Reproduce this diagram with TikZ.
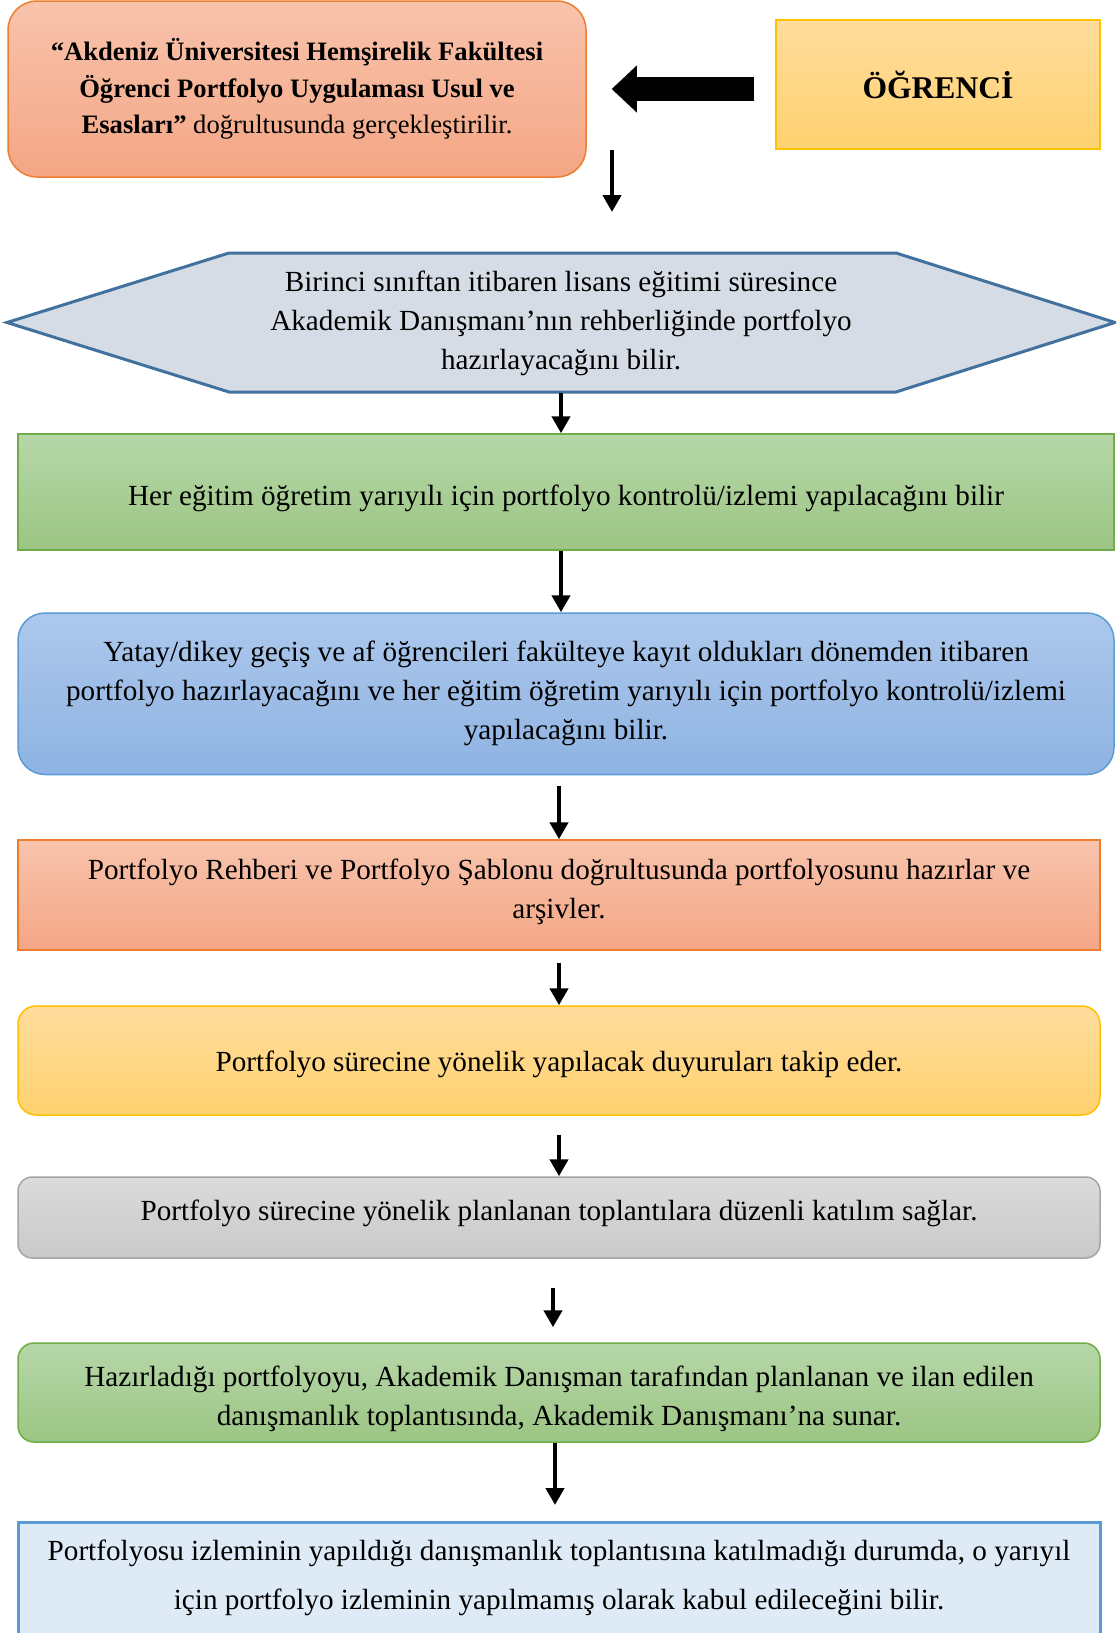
\documentclass[tikz,border=0pt]{standalone}
\usepackage{fontspec}
\setmainfont{Liberation Serif}
\usetikzlibrary{arrows.meta,positioning}

\definecolor{salmonTop}{HTML}{F8C3AC}
\definecolor{salmonBot}{HTML}{F4A685}
\definecolor{orangeLine}{HTML}{ED7D31}
\definecolor{goldTop}{HTML}{FFDC9C}
\definecolor{goldBot}{HTML}{FFD270}
\definecolor{goldLine}{HTML}{FFC000}
\definecolor{greenTop}{HTML}{B6D7A8}
\definecolor{greenBot}{HTML}{9CC584}
\definecolor{greenLine}{HTML}{70AD47}
\definecolor{blueTop}{HTML}{ADC8EC}
\definecolor{blueBot}{HTML}{8EB3E2}
\definecolor{blueLine}{HTML}{5B9BD5}
\definecolor{grayTop}{HTML}{DBDBDB}
\definecolor{grayBot}{HTML}{C9C9C9}
\definecolor{grayLine}{HTML}{A5A5A5}
\definecolor{hexFill}{HTML}{D6DCE5}
\definecolor{hexLine}{HTML}{41719C}
\definecolor{paleFill}{HTML}{DEEBF7}

\begin{document}
\begin{tikzpicture}[x=0.5pt,y=-0.5pt,
    box/.style={draw,align=center,inner sep=0pt,line width=0.75pt,
                font=\fontsize{14.6}{19.3}\selectfont},
    salmonbox/.style={box,draw=orangeLine,top color=salmonTop,bottom color=salmonBot},
    goldbox/.style={box,draw=goldLine,top color=goldTop,bottom color=goldBot},
    greenbox/.style={box,draw=greenLine,top color=greenTop,bottom color=greenBot},
    bluebox/.style={box,draw=blueLine,top color=blueTop,bottom color=blueBot},
    graybox/.style={box,draw=grayLine,top color=grayTop,bottom color=grayBot},
    flow/.style={-{Triangle[length=8.5pt,width=9pt]},line width=2.4pt},
    bigarrow/.style={-{Triangle[length=12.5pt,width=23.5pt,line width=0pt]},
                     line width=12pt}]

  \useasboundingbox (0,0) rectangle (1116,1633);
  \clip (0,0) rectangle (1116,1633);

  % top row
  \node[salmonbox,rounded corners=14.5pt,minimum width=289pt,minimum height=88pt,
        font=\fontsize{13.3}{18.25}\selectfont\bfseries] (usul) at (297,89)
       {“Akdeniz Üniversitesi Hemşirelik Fakültesi\\
        Öğrenci Portfolyo Uygulaması Usul ve\\
        Esasları” \textmd{doğrultusunda gerçekleştirilir.}};
  \node[goldbox,minimum width=162pt,minimum height=64.5pt,
        font=\fontsize{15.8}{19}\selectfont\bfseries] (ogr) at (938,84.5) {ÖĞRENCİ};

  \draw[bigarrow,shorten <=10.5pt,shorten >=12.5pt] (ogr.west |- usul.east) -- (usul.east);

  \coordinate (down1) at (612,150);
  \coordinate (down2) at (612,212);
  \draw[flow] (down1) -- (down2);

  % hexagon
  \draw[fill=hexFill,draw=hexLine,line width=1.5pt]
       (7,322.5) -- (229,253) -- (896,253) -- (1115,322.5)
       -- (896,392) -- (229,392) -- cycle;
  \node[align=center,inner sep=0pt,minimum width=554pt,minimum height=69.5pt,
        font=\fontsize{14.6}{19.5}\selectfont] (lisans) at (561,323)
       {Birinci sınıftan itibaren lisans eğitimi süresince\\
        Akademik Danışmanı’nın rehberliğinde portfolyo\\
        hazırlayacağını bilir.};

  % steps
  \node[greenbox,minimum width=548pt,minimum height=58pt,
        text height=16.2pt,text depth=3.2pt] (kontrol) at (566,492)
       {Her eğitim öğretim yarıyılı için portfolyo kontrolü/izlemi yapılacağını bilir};
  \node[bluebox,rounded corners=13.5pt,minimum width=548pt,minimum height=80.75pt,
        font=\fontsize{14.6}{19.5}\selectfont] (gecis) at (566,693.75)
       {Yatay/dikey geçiş ve af öğrencileri fakülteye kayıt oldukları dönemden itibaren\\
        portfolyo hazırlayacağını ve her eğitim öğretim yarıyılı için portfolyo kontrolü/izlemi\\
        yapılacağını bilir.};
  \node[salmonbox,minimum width=541pt,minimum height=55pt,text depth=6.4pt] (sablon) at (559,895)
       {Portfolyo Rehberi ve Portfolyo Şablonu doğrultusunda portfolyosunu hazırlar ve\\
        arşivler.};
  \node[goldbox,rounded corners=9pt,minimum width=541pt,minimum height=54.5pt,
        text height=14.3pt,text depth=3.2pt] (duyuru) at (559,1060.5)
       {Portfolyo sürecine yönelik yapılacak duyuruları takip eder.};
  \node[graybox,rounded corners=7pt,minimum width=541pt,minimum height=40.5pt,
        text depth=7.1pt] (toplanti) at (559,1217.5)
       {Portfolyo sürecine yönelik planlanan toplantılara düzenli katılım sağlar.};
  \node[greenbox,rounded corners=8pt,minimum width=541pt,minimum height=49.5pt,
        text height=35.8pt,text depth=3.2pt] (sunum) at (559,1392.5)
       {Hazırladığı portfolyoyu, Akademik Danışman tarafından planlanan ve ilan edilen\\
        danışmanlık toplantısında, Akademik Danışmanı’na sunar.};
  \node[box,draw=blueLine,fill=paleFill,line width=1.5pt,anchor=north,
        minimum width=541pt,inner ysep=8.5pt,text depth=40pt,
        font=\fontsize{14.6}{24.5}\selectfont] (kabul) at (559,1521)
       {Portfolyosu izleminin yapıldığı danışmanlık toplantısına katılmadığı durumda, o yarıyıl\\
        için portfolyo izleminin yapılmamış olarak kabul edileceğini bilir.};

  % connectors
  \draw[flow] (lisans.south) -- (lisans.south |- kontrol.north);
  \draw[flow] (lisans.south |- kontrol.south) -- (lisans.south |- gecis.north);
  \draw[flow,shorten <=5.25pt] (sablon.north |- gecis.south) -- (sablon.north);
  \draw[flow,shorten <=6pt] (duyuru.north |- sablon.south) -- (duyuru.north);
  \draw[flow,shorten <=9.5pt] (toplanti.north |- duyuru.south) -- (toplanti.north);
  \draw[flow,shorten <=14.5pt,shorten >=7.5pt] ([xshift=-3pt]toplanti.south)
       -- ([xshift=-3pt]toplanti.south |- sunum.north);
  \draw[flow,shorten >=8pt] ([xshift=-2pt]sunum.south) -- ([xshift=-2pt]sunum.south |- kabul.north);

\end{tikzpicture}
\end{document}
